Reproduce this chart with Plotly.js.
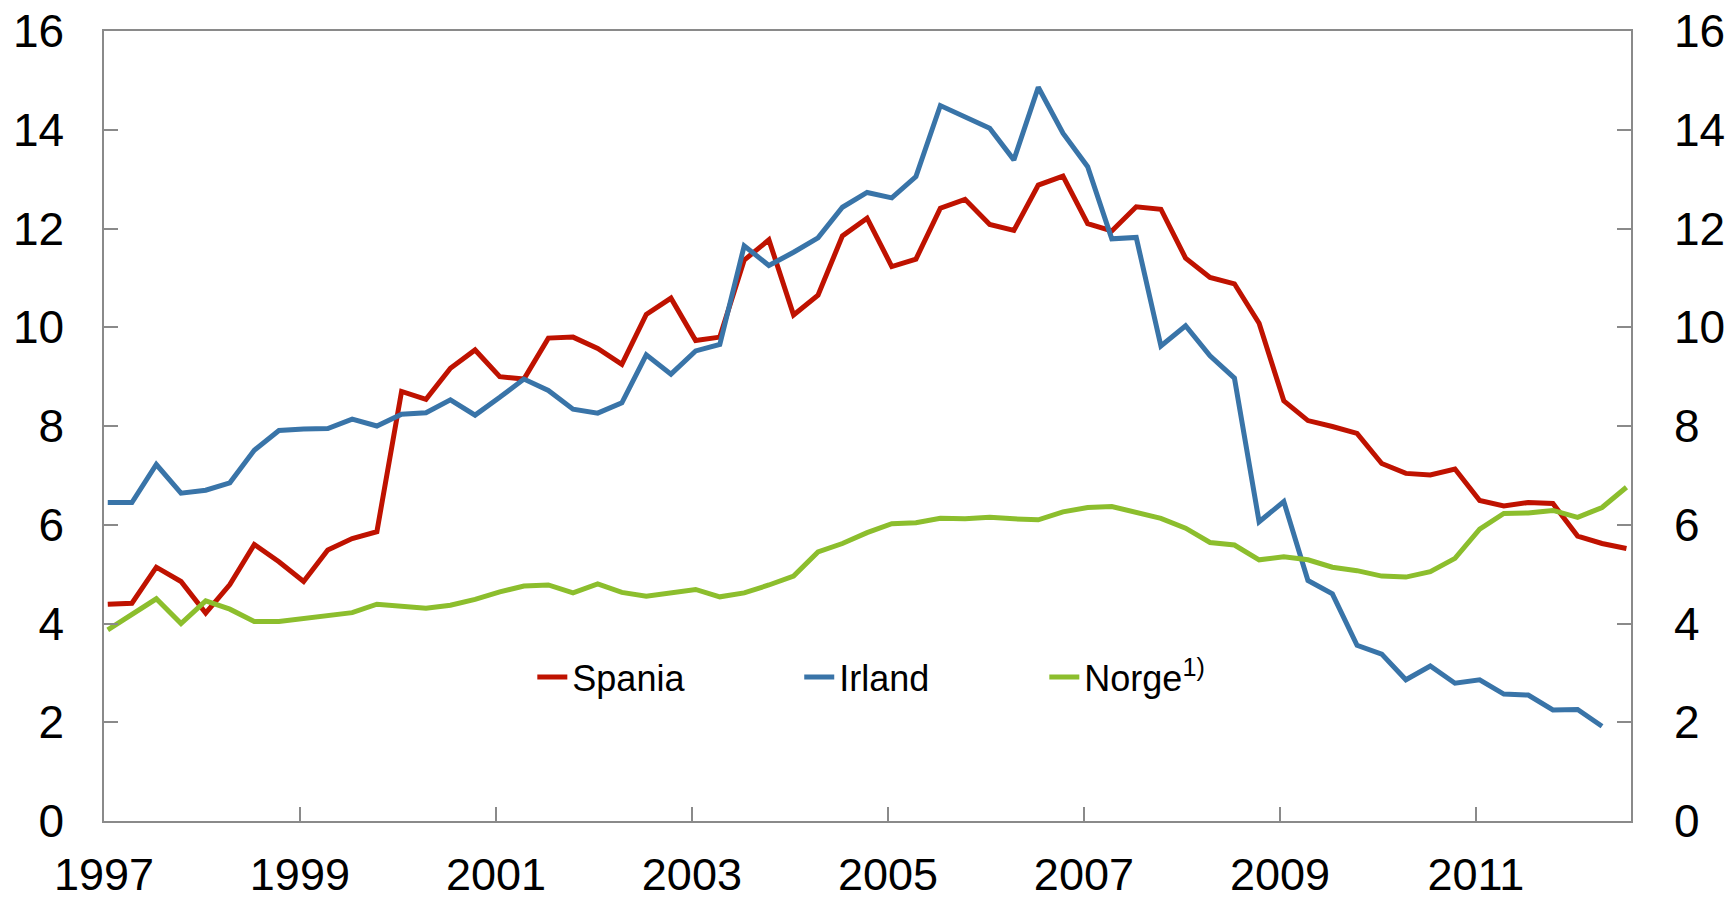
<!DOCTYPE html>
<html>
<head>
<meta charset="utf-8">
<script src="https://cdn.plot.ly/plotly-3.0.1.min.js"></script>
<style>
  html, body { margin: 0; padding: 0; background: #ffffff; }
  #chart { width: 1730px; height: 901px; }
</style>
</head>
<body>
<div id="chart"></div>
<script>
// Quarterly observations (dated mid-month of first month in quarter)
const quarters = [
  "1997-01-15","1997-04-15","1997-07-15","1997-10-15",
  "1998-01-15","1998-04-15","1998-07-15","1998-10-15",
  "1999-01-15","1999-04-15","1999-07-15","1999-10-15",
  "2000-01-15","2000-04-15","2000-07-15","2000-10-15",
  "2001-01-15","2001-04-15","2001-07-15","2001-10-15",
  "2002-01-15","2002-04-15","2002-07-15","2002-10-15",
  "2003-01-15","2003-04-15","2003-07-15","2003-10-15",
  "2004-01-15","2004-04-15","2004-07-15","2004-10-15",
  "2005-01-15","2005-04-15","2005-07-15","2005-10-15",
  "2006-01-15","2006-04-15","2006-07-15","2006-10-15",
  "2007-01-15","2007-04-15","2007-07-15","2007-10-15",
  "2008-01-15","2008-04-15","2008-07-15","2008-10-15",
  "2009-01-15","2009-04-15","2009-07-15","2009-10-15",
  "2010-01-15","2010-04-15","2010-07-15","2010-10-15",
  "2011-01-15","2011-04-15","2011-07-15","2011-10-15",
  "2012-01-15","2012-04-15","2012-07-15"
];

const spania = [
  4.39, 4.41, 5.14, 4.85, 4.21, 4.79, 5.60, 5.25, 4.85, 5.49, 5.72, 5.86,
  8.70, 8.54, 9.17, 9.54, 9.00, 8.95, 9.78, 9.80, 9.57,
  9.25, 10.26, 10.59, 9.73, 9.80, 11.36, 11.77, 10.25, 10.65, 11.85, 12.21,
  11.23, 11.38, 12.41, 12.59, 12.08, 11.96, 12.88, 13.06, 12.10, 11.95, 12.44,
  12.39, 11.40, 11.01, 10.88, 10.08, 8.51, 8.11, 7.99, 7.85, 7.24, 7.04,
  7.01, 7.13, 6.49, 6.38, 6.45, 6.43, 5.77, 5.62, 5.52
];

const irland = [
  6.45, 6.45, 7.22, 6.64, 6.70, 6.85, 7.51, 7.91, 7.94, 7.95, 8.14, 8.00,
  8.24, 8.27, 8.53, 8.22, 8.58, 8.95, 8.72, 8.34, 8.26,
  8.47, 9.44, 9.05, 9.52, 9.65, 11.65, 11.25, 11.52, 11.81, 12.43, 12.73,
  12.62, 13.05, 14.49, 14.26, 14.03, 13.39, 14.86, 13.93, 13.25, 11.79, 11.82,
  9.62, 10.03, 9.42, 8.97, 6.06, 6.47, 4.87, 4.60, 3.56, 3.38, 2.86,
  3.14, 2.79, 2.86, 2.57, 2.55, 2.25, 2.26, 1.92
];

const norge = [
  3.87, 4.19, 4.50, 4.00, 4.46, 4.29, 4.04, 4.04, 4.10, 4.15, 4.22, 4.39,
  4.34, 4.31, 4.37, 4.49, 4.64, 4.76, 4.78, 4.62, 4.80,
  4.63, 4.55, 4.61, 4.69, 4.54, 4.62, 4.78, 4.96, 5.45, 5.62, 5.84,
  6.02, 6.04, 6.13, 6.12, 6.15, 6.12, 6.10, 6.26, 6.35, 6.37, 6.25,
  6.13, 5.93, 5.64, 5.59, 5.29, 5.35, 5.29, 5.14, 5.07, 4.96, 4.94,
  5.05, 5.32, 5.91, 6.23, 6.24, 6.29, 6.15, 6.35, 6.76
];

const seriesNames = ["Spania", "Irland", "Norge<sup>1)</sup>"];
const seriesColors = ["#BF1200", "#3974A8", "#8CBE2D"];
// the last series is drawn against the right-hand axis (identical scale)
const seriesAxis = ["y", "y", "y2"];
const seriesLegend = ["legend", "legend2", "legend3"];

const xTickVals = ["1997-01-01","1999-01-01","2001-01-01","2003-01-01",
                   "2005-01-01","2007-01-01","2009-01-01","2011-01-01"];
const xTickText = ["1997","1999","2001","2003","2005","2007","2009","2011"];
const yTickVals = [0, 2, 4, 6, 8, 10, 12, 14, 16];

const FONT = "'Liberation Sans', Arial, sans-serif";
const AXIS_GREY = "#8a8a8a";

const allSeries = [spania, irland, norge];
const traces = allSeries.map((vals, k) => ({
  type: "scatter",
  mode: "lines",
  x: quarters.slice(0, vals.length),
  y: vals,
  yaxis: seriesAxis[k],
  legend: seriesLegend[k],
  name: seriesNames[k],
  line: { color: seriesColors[k], width: 5 },
  hoverinfo: "x+y+name"
}));

const yCommon = {
  range: [0, 16],
  tickmode: "array",
  tickvals: yTickVals,
  ticktext: yTickVals.map(String),
  ticks: "inside",
  ticklen: 14,
  tickwidth: 1.5,
  tickcolor: AXIS_GREY,
  showline: true,
  linecolor: AXIS_GREY,
  linewidth: 1.5,
  showgrid: false,
  zeroline: false,
  tickfont: { family: FONT, size: 46, color: "#000000" },
  ticklabelstandoff: 29,
  fixedrange: true
};

function legendAt(xPos) {
  return {
    orientation: "h",
    x: xPos,
    xanchor: "left",
    y: 0.182,
    yanchor: "middle",
    bgcolor: "rgba(0,0,0,0)",
    borderwidth: 0,
    font: { family: FONT, size: 36, color: "#000000" }
  };
}

const layout = {
  width: 1730,
  height: 901,
  margin: { l: 104, r: 99, t: 31, b: 80, pad: 0 },
  paper_bgcolor: "#ffffff",
  plot_bgcolor: "#ffffff",
  font: { family: FONT, color: "#000000" },
  showlegend: true,
  legend: legendAt(0.2805),
  legend2: legendAt(0.4553),
  legend3: legendAt(0.6158),
  xaxis: {
    type: "date",
    range: ["1997-01-01", "2012-08-01"],
    tickmode: "array",
    tickvals: xTickVals,
    ticktext: xTickText,
    ticks: "inside",
    ticklen: 14,
    tickwidth: 1.5,
    tickcolor: AXIS_GREY,
    showline: true,
    linecolor: AXIS_GREY,
    linewidth: 1.5,
    mirror: true,
    showgrid: false,
    zeroline: false,
    tickfont: { family: FONT, size: 45, color: "#000000" },
    ticklabelstandoff: 13,
    fixedrange: true
  },
  yaxis: Object.assign({}, yCommon, { side: "left" }),
  yaxis2: Object.assign({}, yCommon, { side: "right", overlaying: "y", anchor: "x", ticklabelstandoff: 32 })
};

Plotly.newPlot("chart", traces, layout, { displayModeBar: false, responsive: false });
</script>
</body>
</html>
